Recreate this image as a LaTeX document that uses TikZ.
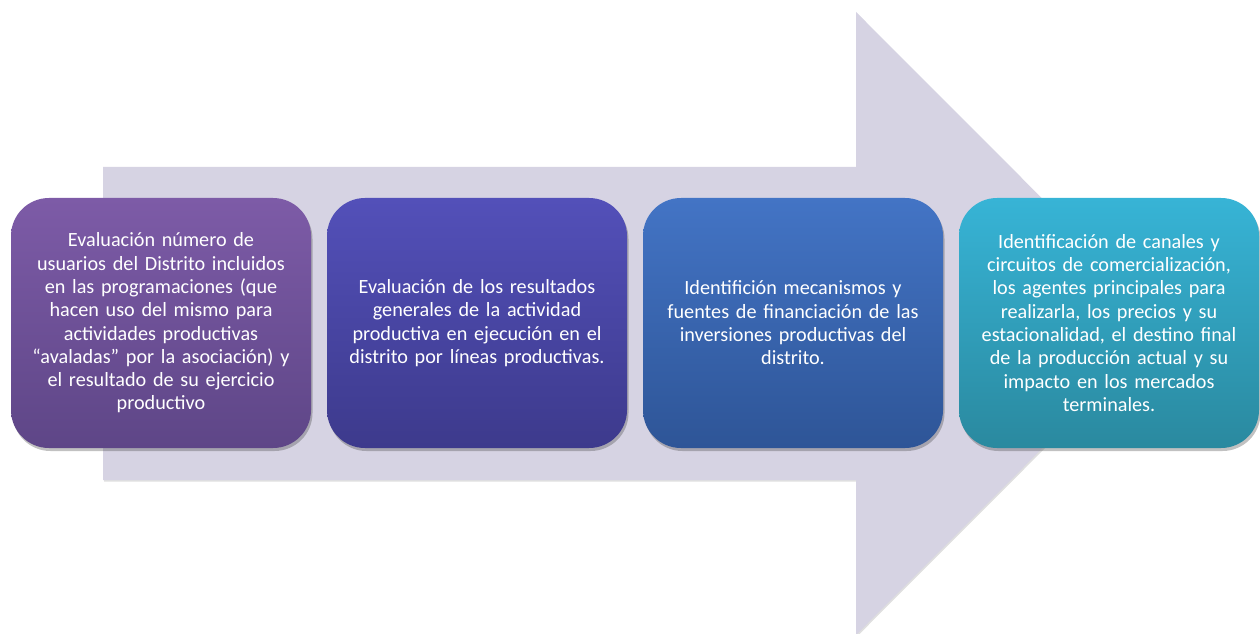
\documentclass[tikz,border=0pt]{standalone}
\usepackage{fontspec}
\setmainfont{Carlito}
\usetikzlibrary{shadows}
\definecolor{arrowfill}{HTML}{D6D3E3}
\definecolor{aTop}{HTML}{7D5BA7}
\definecolor{aBot}{HTML}{5E4687}
\definecolor{bTop}{HTML}{5350B9}
\definecolor{bBot}{HTML}{3D3A8C}
\definecolor{cTop}{HTML}{4374C5}
\definecolor{cBot}{HTML}{2E5597}
\definecolor{dTop}{HTML}{37B4D6}
\definecolor{dBot}{HTML}{2A899F}
\tikzset{
  card/.style={rounded corners=38pt, minimum width=300pt, minimum height=250pt,
    text width=296pt, align=center, text=white, inner sep=0pt,
    font=\fontsize{20.2pt}{23.3pt}\selectfont,
    drop shadow={shadow xshift=1.5pt, shadow yshift=-3pt, opacity=0.35, fill=black!70}},
}
\begin{document}
\begin{tikzpicture}[x=1pt,y=1pt]
\useasboundingbox (0,0) rectangle (1260,633);
\begin{scope}
\clip (0,0) rectangle (1260,633);
\fill[arrowfill, drop shadow={shadow xshift=1pt, shadow yshift=-1.5pt, opacity=0.25}]
  (103,466) -- (856,466) -- (856,621) -- (1167,309.5) -- (856,-2) -- (856,153) -- (103,153) -- cycle;
\end{scope}
\node[card, top color=aTop, bottom color=aBot] (n1) at (161,310)
  {Evaluación número de\\usuarios del Distrito incluidos\\en las programaciones (que\\hacen uso del mismo para\\actividades productivas\\“avaladas” por la asociación) y\\el resultado de su ejercicio\\productivo};
\node[card, top color=bTop, bottom color=bBot] (n2) at (477,310)
  {Evaluación de los resultados\\generales de la actividad\\productiva en ejecución en el\\distrito por líneas productivas.};
\node[card, top color=cTop, bottom color=cBot] (n3) at (793,310)
  {Identifición mecanismos y\\fuentes de financiación de las\\inversiones productivas del\\distrito.};
\node[card, top color=dTop, bottom color=dBot] (n4) at (1109,310)
  {Identificación de canales y\\circuitos de comercialización,\\los agentes principales para\\realizarla, los precios y su\\estacionalidad, el destino final\\de la producción actual y su\\impacto en los mercados\\terminales.};
\end{tikzpicture}
\end{document}
